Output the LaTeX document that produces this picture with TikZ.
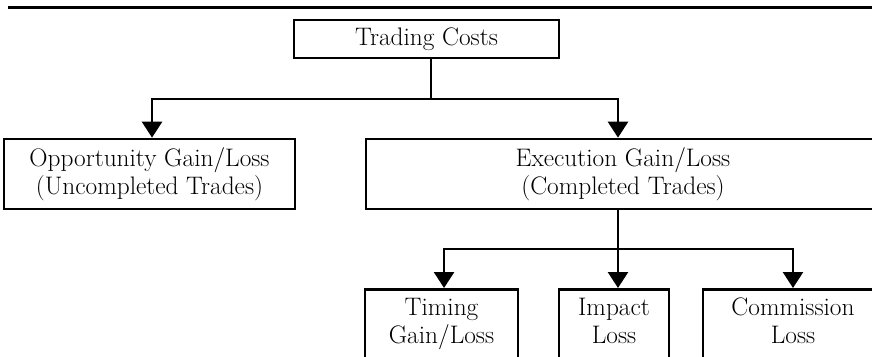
\documentclass[tikz,border=0pt]{standalone}
\usepackage{fontspec}
\usetikzlibrary{arrows.meta}
\tikzset{
  box/.style={draw, line width=2pt, inner sep=0pt, align=center,
    font=\fontsize{19}{21}\selectfont},
  leafbox/.style={box, anchor=north, inner sep=6.5pt, text depth=30pt},
  conn/.style={line width=2pt},
  arr/.style={conn, -{Triangle[width=15pt,length=12pt]}}
}
\begin{document}
\begin{tikzpicture}[x=0.75pt,y=-0.75pt]
\useasboundingbox (0,0) rectangle (872,357);
\clip (0,0) rectangle (872,357);
% top rule
\coordinate (ruleL) at (8,7.5);
\coordinate (ruleR) at (875,7.5);
\draw[line width=2.1pt] (ruleL) -- (ruleR);
% nodes
\node[box, minimum width=265*0.75pt, minimum height=38*0.75pt] (trading) at (426.5,39) {Trading Costs};
\node[box, minimum width=291*0.75pt, minimum height=70*0.75pt] (opp) at (149.5,174) {Opportunity Gain/Loss\\(Uncompleted Trades)};
\node[box, minimum width=514*0.75pt, minimum height=70*0.75pt] (exec) at (623,174) {Execution Gain/Loss\\(Completed Trades)};
\node[leafbox, minimum width=153*0.75pt] (timing) at (441.5,288) {Timing\\Gain/Loss};
\node[leafbox, minimum width=110*0.75pt] (impact) at (614,288) {Impact\\Loss};
\node[leafbox, minimum width=180*0.75pt] (comm) at (793,288) {Commission\\Loss};
% connectors
\coordinate (j1) at (431,99);
\coordinate (j2) at (618,249);
\draw[conn] (trading.south -| j1) -- (j1);
\draw[arr] (j1) -| ([xshift=1.9pt]opp.north);
\draw[arr] (j1) -| ([xshift=-3.75pt]exec.north);
\draw[conn] (exec.south -| j2) -- (j2);
\draw[arr] (j2) -| ([xshift=1.9pt]timing.north);
\draw[arr] (j2) -- (impact.north -| j2);
\draw[arr] (j2) -| (comm.north);
\end{tikzpicture}
\end{document}
